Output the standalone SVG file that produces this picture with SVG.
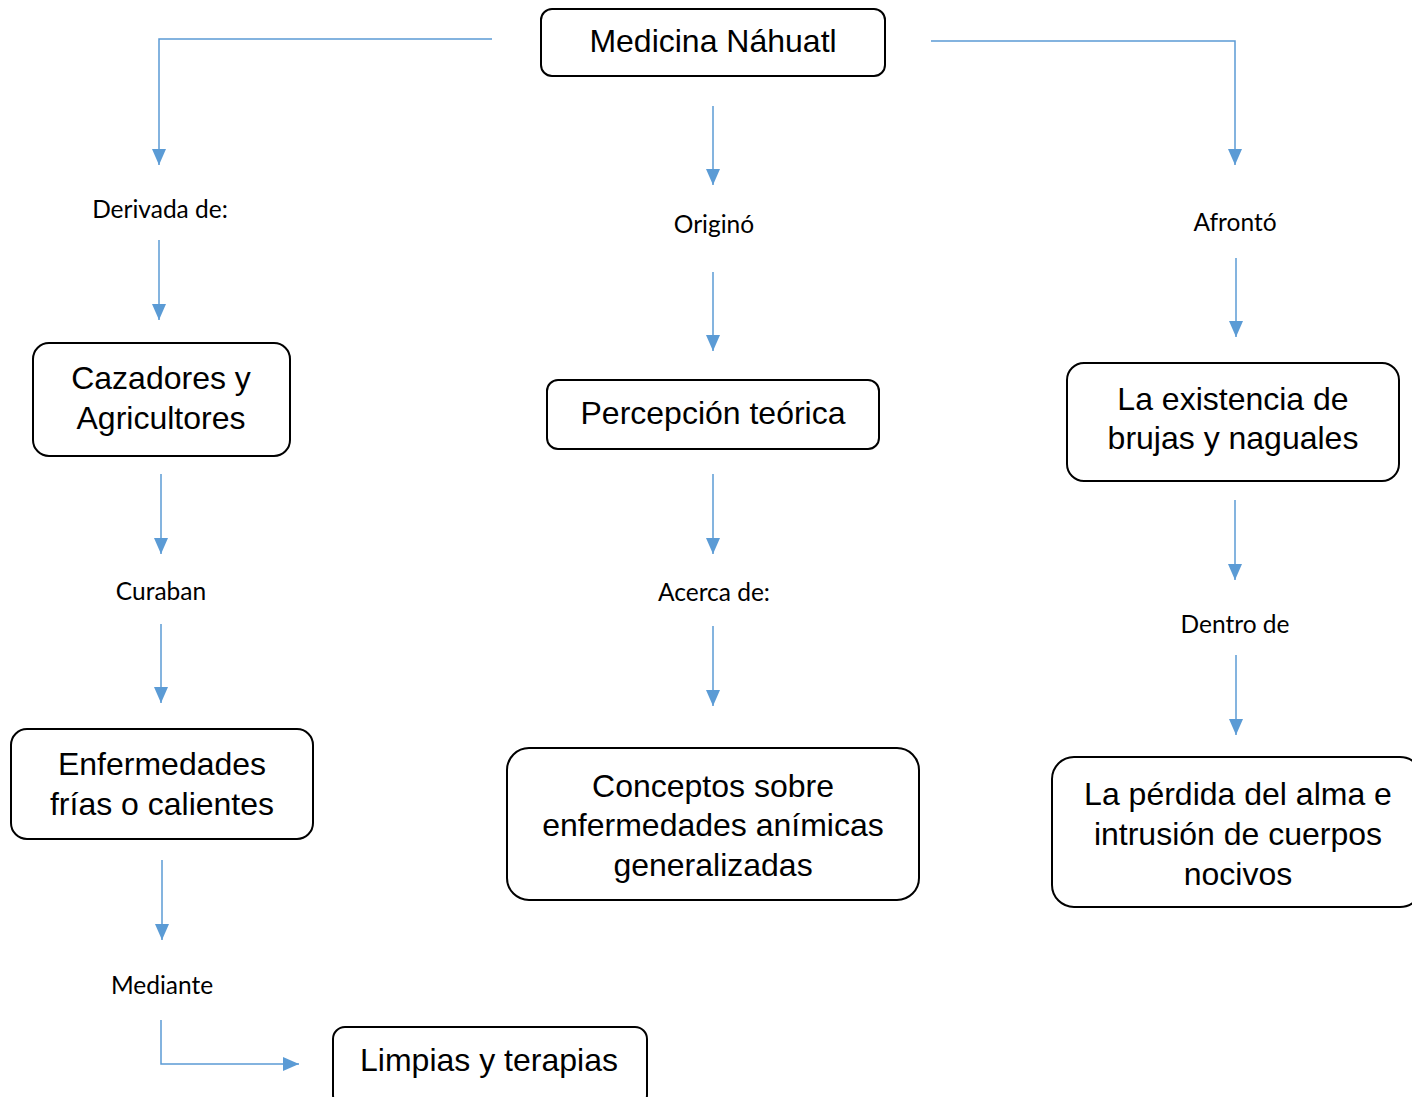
<svg xmlns="http://www.w3.org/2000/svg" width="1412" height="1097" viewBox="0 0 1412 1097">
<style>
.box{fill:#fff;stroke:#000;stroke-width:2}
.bt{font-family:"Liberation Sans",Arial,sans-serif;font-size:32px;fill:#000;text-anchor:middle}
.lb{font-family:Lato,"Open Sans",sans-serif;font-size:24.5px;fill:#000;text-anchor:middle}
.c{fill:none;stroke:#5B9BD5;stroke-width:1.5;marker-end:url(#ah)}
</style>
<defs>
<marker id="ah" viewBox="0 0 16 14" refX="16" refY="7" markerWidth="16" markerHeight="14" markerUnits="userSpaceOnUse" orient="auto">
<path d="M0,0 L16,7 L0,14 z" fill="#5B9BD5"/>
</marker>
</defs>
<rect width="1412" height="1097" fill="#fff"/>
<g id="connectors">
<path class="c" d="M492,39 H159 V165"/>
<path class="c" d="M931,41 H1235 V165"/>
<path class="c" d="M713,106 V185"/>
<path class="c" d="M159,240 V320"/>
<path class="c" d="M713,272 V351"/>
<path class="c" d="M1236,258 V337"/>
<path class="c" d="M161,474 V554"/>
<path class="c" d="M713,474 V554"/>
<path class="c" d="M1235,500 V580"/>
<path class="c" d="M161,624 V703"/>
<path class="c" d="M713,626 V706"/>
<path class="c" d="M1236,655 V735"/>
<path class="c" d="M162,860 V940"/>
<path class="c" d="M161,1020 V1064 H299"/>
</g>
<g id="labels">
<text class="lb" x="160" y="218">Derivada de:</text>
<text class="lb" x="714" y="233">Originó</text>
<text class="lb" x="1235" y="231">Afrontó</text>
<text class="lb" x="161" y="600">Curaban</text>
<text class="lb" x="714" y="601">Acerca de:</text>
<text class="lb" x="1235" y="633">Dentro de</text>
<text class="lb" x="162" y="994">Mediante</text>
</g>
<g id="n-medicina">
<rect class="box" x="541" y="9" width="344" height="67" rx="11"/>
<text class="bt" x="713" y="52">Medicina Náhuatl</text>
</g>
<g id="n-cazadores">
<rect class="box" x="33" y="343" width="257" height="113" rx="16"/>
<text class="bt" x="161" y="389">Cazadores y</text>
<text class="bt" x="161" y="429">Agricultores</text>
</g>
<g id="n-percepcion">
<rect class="box" x="547" y="380" width="332" height="69" rx="11"/>
<text class="bt" x="713" y="424">Percepción teórica</text>
</g>
<g id="n-existencia">
<rect class="box" x="1067" y="363" width="332" height="118" rx="17"/>
<text class="bt" x="1233" y="410">La existencia de</text>
<text class="bt" x="1233" y="449">brujas y naguales</text>
</g>
<g id="n-enfermedades">
<rect class="box" x="11" y="729" width="302" height="110" rx="16"/>
<text class="bt" x="162" y="775">Enfermedades</text>
<text class="bt" x="162" y="815">frías o calientes</text>
</g>
<g id="n-conceptos">
<rect class="box" x="507" y="748" width="412" height="152" rx="22"/>
<text class="bt" x="713" y="797">Conceptos sobre</text>
<text class="bt" x="713" y="836">enfermedades anímicas</text>
<text class="bt" x="713" y="876">generalizadas</text>
</g>
<g id="n-perdida">
<rect class="box" x="1052" y="757" width="370" height="150" rx="22"/>
<text class="bt" x="1238" y="805">La pérdida del alma e</text>
<text class="bt" x="1238" y="845">intrusión de cuerpos</text>
<text class="bt" x="1238" y="885">nocivos</text>
</g>
<g id="n-limpias">
<rect class="box" x="333" y="1027" width="314" height="80" rx="12"/>
<text class="bt" x="489" y="1071">Limpias y terapias</text>
</g>
</svg>
